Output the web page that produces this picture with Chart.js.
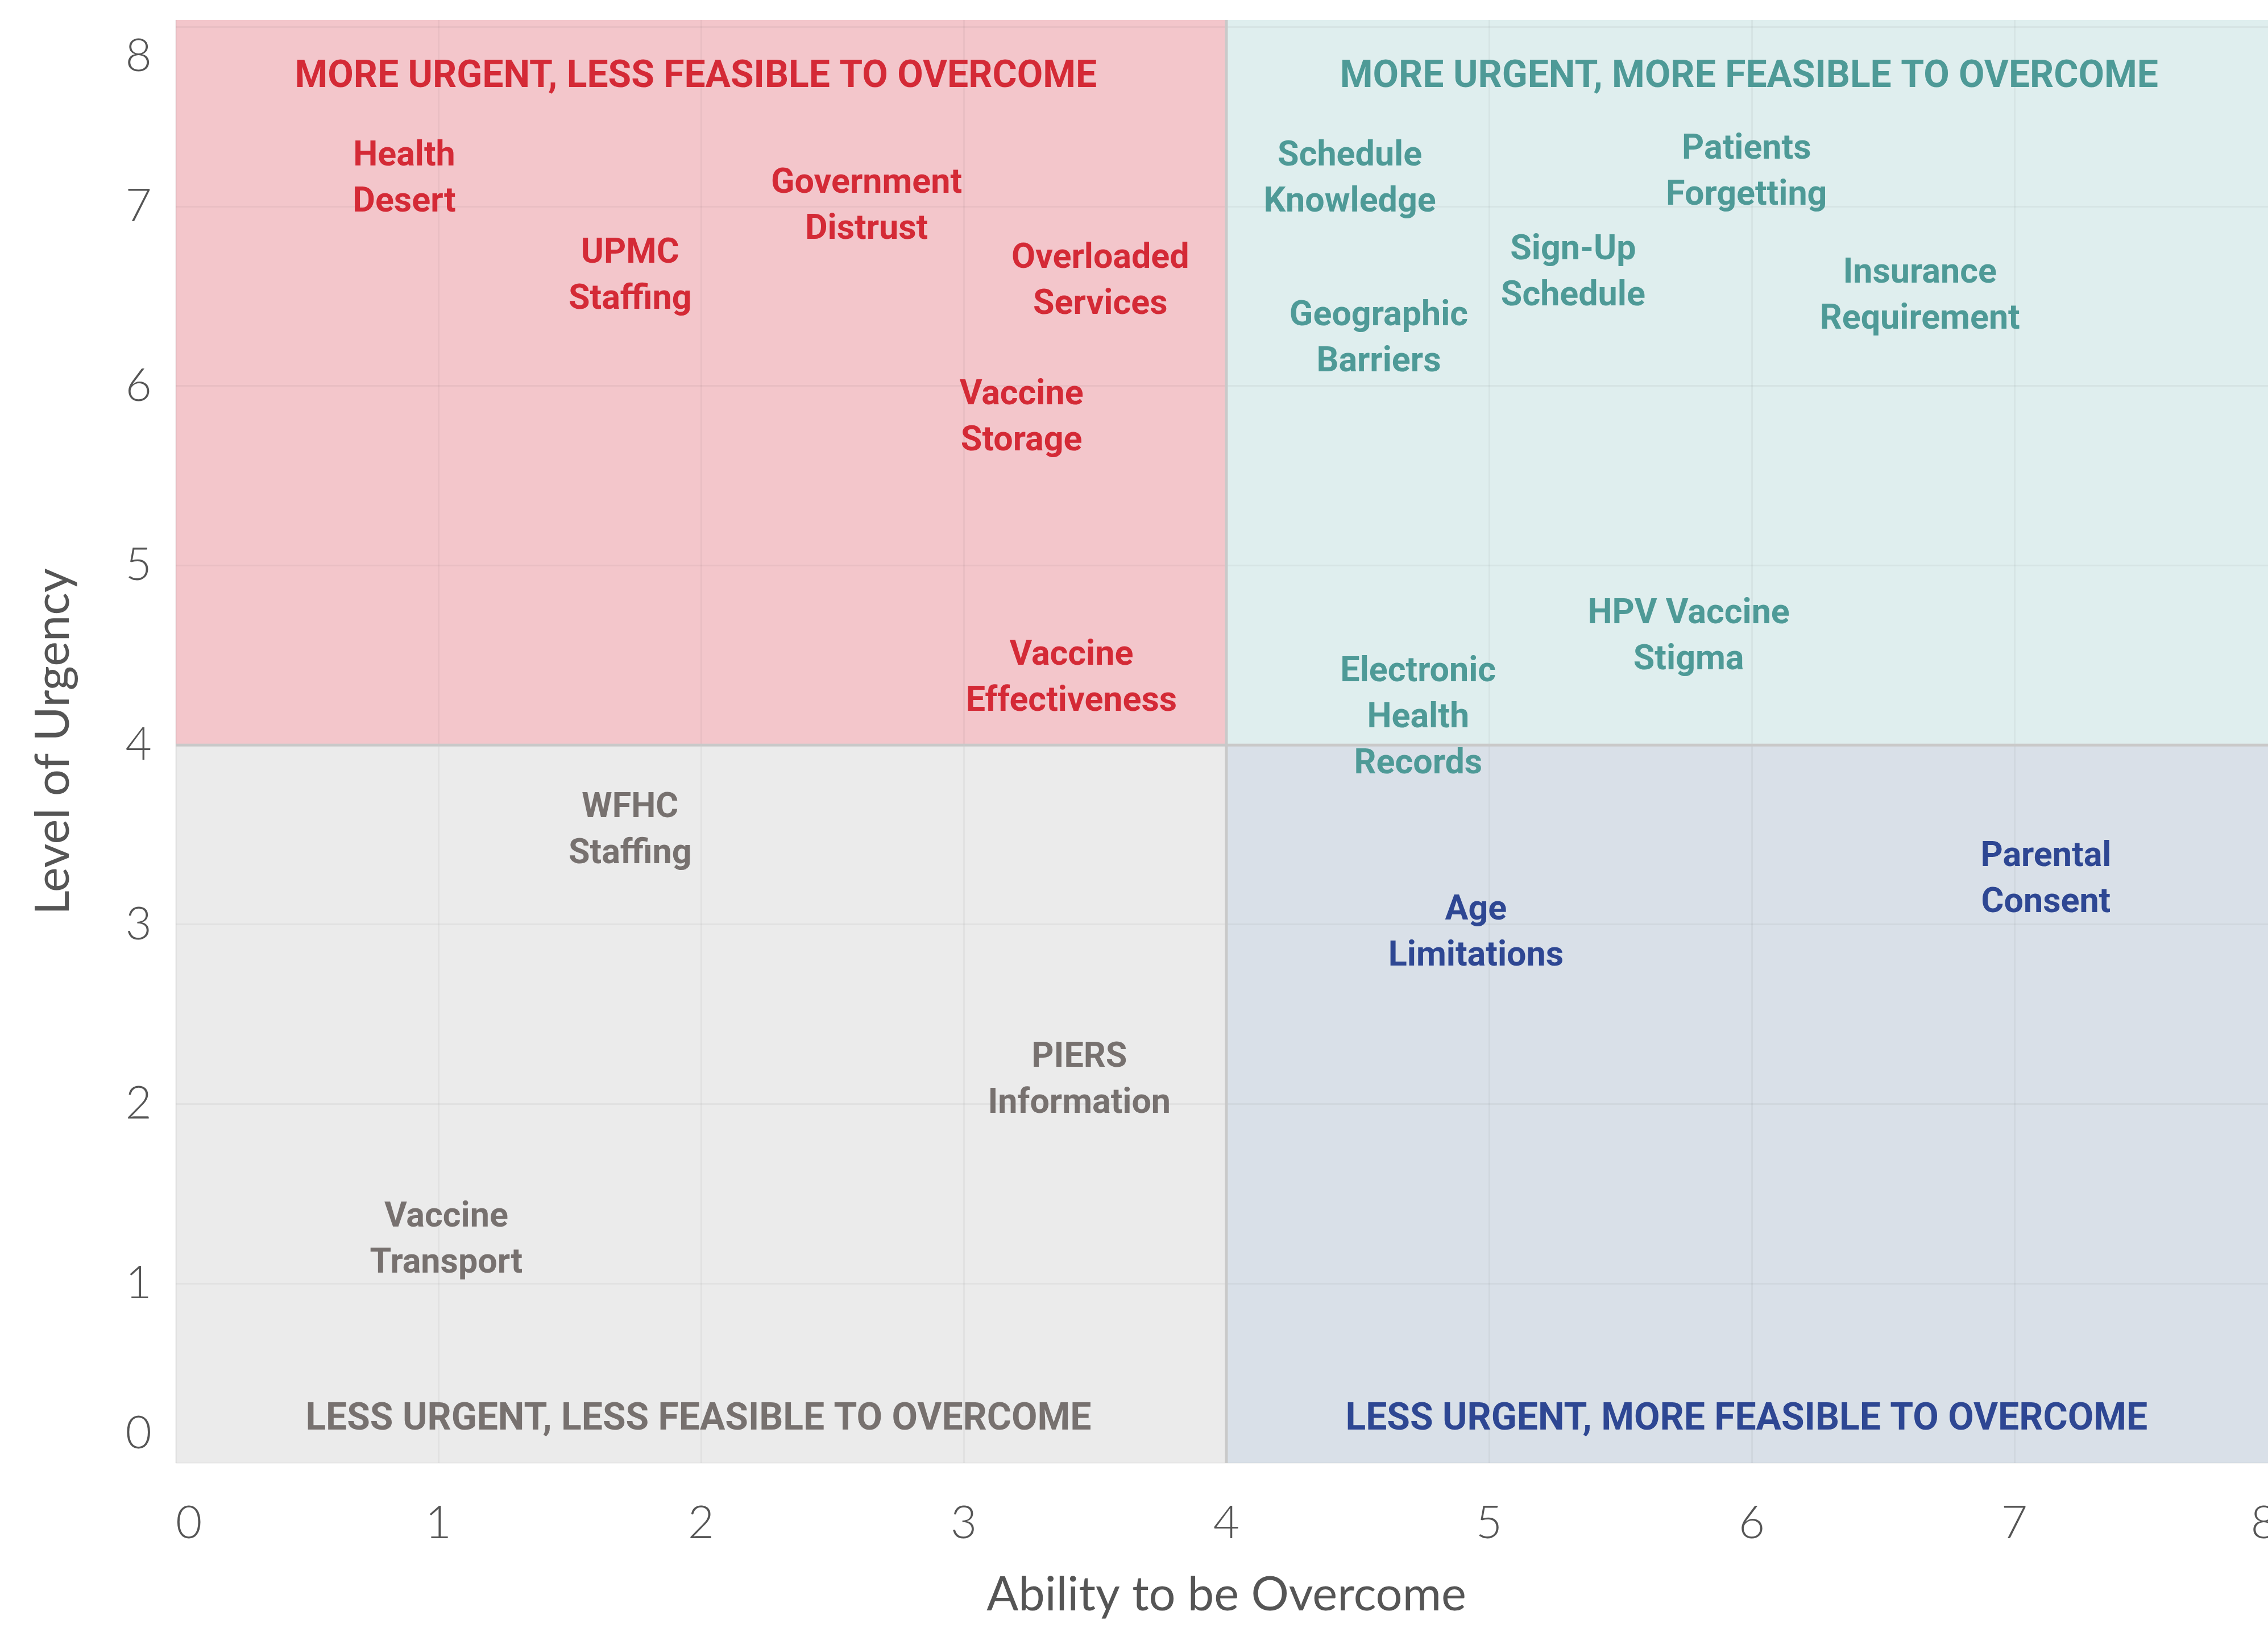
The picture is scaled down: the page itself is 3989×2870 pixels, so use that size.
<!DOCTYPE html>
<html>
<head>
<meta charset="utf-8">
<title>Urgency vs Ability to be Overcome</title>
<script src="https://cdn.jsdelivr.net/npm/chart.js@4.4.1/dist/chart.umd.min.js"></script>
<style>
    html, body { margin: 0; padding: 0; background: #fff; overflow: hidden; }
    #wrap { position: relative; width: 4005px; height: 2870px; }
</style>
</head>
<body>
<div id="wrap"><canvas id="chart"></canvas></div>
<script>
// barriers, placed by ability to be overcome (x) and level of urgency (y)
const issueNames = [
    ['Health', 'Desert'],
    ['UPMC', 'Staffing'],
    ['Government', 'Distrust'],
    ['Overloaded', 'Services'],
    ['Vaccine', 'Storage'],
    ['Vaccine', 'Effectiveness'],
    ['WFHC', 'Staffing'],
    ['PIERS', 'Information'],
    ['Vaccine', 'Transport'],
    ['Schedule', 'Knowledge'],
    ['Patients', 'Forgetting'],
    ['Sign-Up', 'Schedule'],
    ['Geographic', 'Barriers'],
    ['Insurance', 'Requirement'],
    ['HPV Vaccine', 'Stigma'],
    ['Electronic', 'Health', 'Records'],
    ['Age', 'Limitations'],
    ['Parental', 'Consent'],
];
const ability = [0.87, 1.73, 2.63, 3.52, 3.22, 3.41, 1.73, 3.44, 1.03, 4.47, 5.98, 5.32, 4.58, 6.64, 5.76, 4.73, 4.95, 7.12];
const urgency = [7.17, 6.63, 7.02, 6.60, 5.84, 4.39, 3.54, 2.15, 1.26, 7.17, 7.21, 6.65, 6.28, 6.52, 4.62, 4.17, 2.97, 3.27];

const quadrantTitles = [
    'MORE URGENT, LESS FEASIBLE TO OVERCOME',
    'MORE URGENT, MORE FEASIBLE TO OVERCOME',
    'LESS URGENT, LESS FEASIBLE TO OVERCOME',
    'LESS URGENT, MORE FEASIBLE TO OVERCOME',
];
const quadrantAbility = [1.98, 5.99, 1.99, 5.98];
const quadrantUrgency = [7.74, 7.74, 0.26, 0.26];

const xTickValues = [0, 1, 2, 3, 4, 5, 6, 7, 8];
const xTickLabels = ['0', '1', '2', '3', '4', '5', '6', '7', '8'];
const yTickValues = [0, 1, 2, 3, 4, 5, 6, 7, 8];
const yTickLabels = ['0', '1', '2', '3', '4', '5', '6', '7', '8'];
// the shaded area runs a little past the top tick
const yAxisMax = 8.04;

const splitAbility = 4;
const splitUrgency = 4;

const QUADRANT_FILL = { tl: '#f3c6cb', tr: '#dfeeee', bl: '#ebebeb', br: '#d9e0e8' };
const QUADRANT_TEXT = { tl: '#d42a36', tr: '#4e9a97', bl: '#77716f', br: '#2e4793' };
const AXIS_TEXT = '#555555';
const GRID = 'rgba(0, 0, 0, 0.04)';
const REF_LINE = '#c9c9c9';

function quadrantOf(x, y) {
    return (y >= splitUrgency ? 't' : 'b') + (x < splitAbility ? 'l' : 'r');
}

// centre a block of lines on (cx, cy); nudge is the gap between the em middle and the ink middle
function drawLines(ctx, lines, cx, cy, lineHeight, nudge) {
    const startY = cy - (lines.length - 1) * lineHeight / 2 + nudge;
    lines.forEach((line, j) => ctx.fillText(line, cx, startY + j * lineHeight));
}

// the end tick labels are pulled inside, so the axes need no extra room for them
function noLabelPadding(scale) {
    scale.paddingTop = 0;
    scale.paddingBottom = 0;
    scale.paddingLeft = 0;
    scale.paddingRight = 0;
}

const quadrantPlugin = {
    id: 'quadrants',
    beforeDraw(chart) {
        const { ctx, scales: { x, y } } = chart;
        const x0 = x.getPixelForValue(x.min);
        const xm = x.getPixelForValue(splitAbility);
        const x1 = x.getPixelForValue(x.max);
        const y0 = y.getPixelForValue(y.max);
        const ym = y.getPixelForValue(splitUrgency);
        const y1 = y.getPixelForValue(y.min);
        ctx.save();
        ctx.fillStyle = QUADRANT_FILL.tl;
        ctx.fillRect(x0, y0, xm - x0, ym - y0);
        ctx.fillStyle = QUADRANT_FILL.tr;
        ctx.fillRect(xm, y0, x1 - xm, ym - y0);
        ctx.fillStyle = QUADRANT_FILL.bl;
        ctx.fillRect(x0, ym, xm - x0, y1 - ym);
        ctx.fillStyle = QUADRANT_FILL.br;
        ctx.fillRect(xm, ym, x1 - xm, y1 - ym);
        ctx.restore();
    },
    beforeDatasetsDraw(chart) {
        const { ctx, scales: { x, y } } = chart;
        const xm = x.getPixelForValue(splitAbility);
        const ym = y.getPixelForValue(splitUrgency);
        ctx.save();
        ctx.strokeStyle = REF_LINE;
        ctx.lineWidth = 5;
        ctx.beginPath();
        ctx.moveTo(xm, y.getPixelForValue(y.max));
        ctx.lineTo(xm, y.getPixelForValue(y.min));
        ctx.moveTo(x.getPixelForValue(x.min), ym);
        ctx.lineTo(x.getPixelForValue(x.max), ym);
        ctx.stroke();
        ctx.restore();
    },
    afterDatasetsDraw(chart) {
        const { ctx } = chart;
        ctx.save();
        ctx.textAlign = 'center';
        ctx.textBaseline = 'middle';

        const issues = chart.getDatasetMeta(0).data;
        ctx.font = '700 61px Roboto, "Open Sans", sans-serif';
        issues.forEach((pt, i) => {
            ctx.fillStyle = QUADRANT_TEXT[quadrantOf(ability[i], urgency[i])];
            drawLines(ctx, issueNames[i], pt.x, pt.y, 81, 7);
        });

        const titles = chart.getDatasetMeta(1).data;
        ctx.font = '700 66px Roboto, "Open Sans", sans-serif';
        titles.forEach((pt, i) => {
            ctx.fillStyle = QUADRANT_TEXT[quadrantOf(quadrantAbility[i], quadrantUrgency[i])];
            drawLines(ctx, [quadrantTitles[i]], pt.x, pt.y, 81, 7);
        });
        ctx.restore();
    },
};

const tickFont = { family: 'Lato, "Open Sans", sans-serif', size: 80, weight: 300, lineHeight: 1.2 };
const titleFont = { family: 'Lato, "Open Sans", sans-serif', size: 83, weight: 400, lineHeight: 1.2 };

new Chart(document.getElementById('chart'), {
    type: 'scatter',
    data: {
        datasets: [
            {
                label: 'Barriers',
                data: ability.map((a, i) => ({ x: a, y: urgency[i] })),
                pointRadius: 0,
                pointHoverRadius: 0,
            },
            {
                label: 'Quadrants',
                data: quadrantAbility.map((a, i) => ({ x: a, y: quadrantUrgency[i] })),
                pointRadius: 0,
                pointHoverRadius: 0,
            },
        ],
    },
    options: {
        responsive: true,
        maintainAspectRatio: false,
        animation: false,
        events: [],
        layout: { padding: { top: 35, right: 0, bottom: 0, left: 0 } },
        plugins: {
            legend: { display: false },
            tooltip: { enabled: false },
        },
        scales: {
            x: {
                type: 'linear',
                min: 0,
                max: 8,
                afterBuildTicks(scale) {
                    scale.ticks = xTickValues.map(v => ({ value: v }));
                },
                afterFit(scale) {
                    scale.height = 297;
                    noLabelPadding(scale);
                },
                ticks: {
                    align: 'inner',
                    autoSkip: false,
                    maxRotation: 0,
                    minRotation: 0,
                    padding: 58,
                    color: AXIS_TEXT,
                    font: tickFont,
                    callback(value, index) {
                        return xTickLabels[index];
                    },
                },
                grid: { color: GRID, lineWidth: 3, drawTicks: false },
                border: { display: false },
                title: {
                    display: true,
                    text: 'Ability to be Overcome',
                    color: AXIS_TEXT,
                    font: titleFont,
                    padding: { top: 0, bottom: 15 },
                },
            },
            y: {
                type: 'linear',
                min: 0,
                max: yAxisMax,
                afterBuildTicks(scale) {
                    scale.ticks = yTickValues.map(v => ({ value: v }));
                },
                afterFit(scale) {
                    scale.width = 309;
                    noLabelPadding(scale);
                },
                ticks: {
                    padding: 42,
                    color: AXIS_TEXT,
                    font: { ...tickFont, lineHeight: 1.3 },
                    callback(value, index) {
                        const label = yTickLabels[index];
                        // keep the end labels inside the plot, as in the original
                        if (index === yTickLabels.length - 1) return ['', label];
                        if (index === 0) return [label, ''];
                        return label;
                    },
                },
                grid: { color: GRID, lineWidth: 3, drawTicks: false },
                border: { display: false },
                title: {
                    display: true,
                    text: 'Level of Urgency',
                    color: AXIS_TEXT,
                    font: titleFont,
                    padding: { top: 44, bottom: 0 },
                },
            },
        },
    },
    plugins: [quadrantPlugin],
});
</script>
</body>
</html>
